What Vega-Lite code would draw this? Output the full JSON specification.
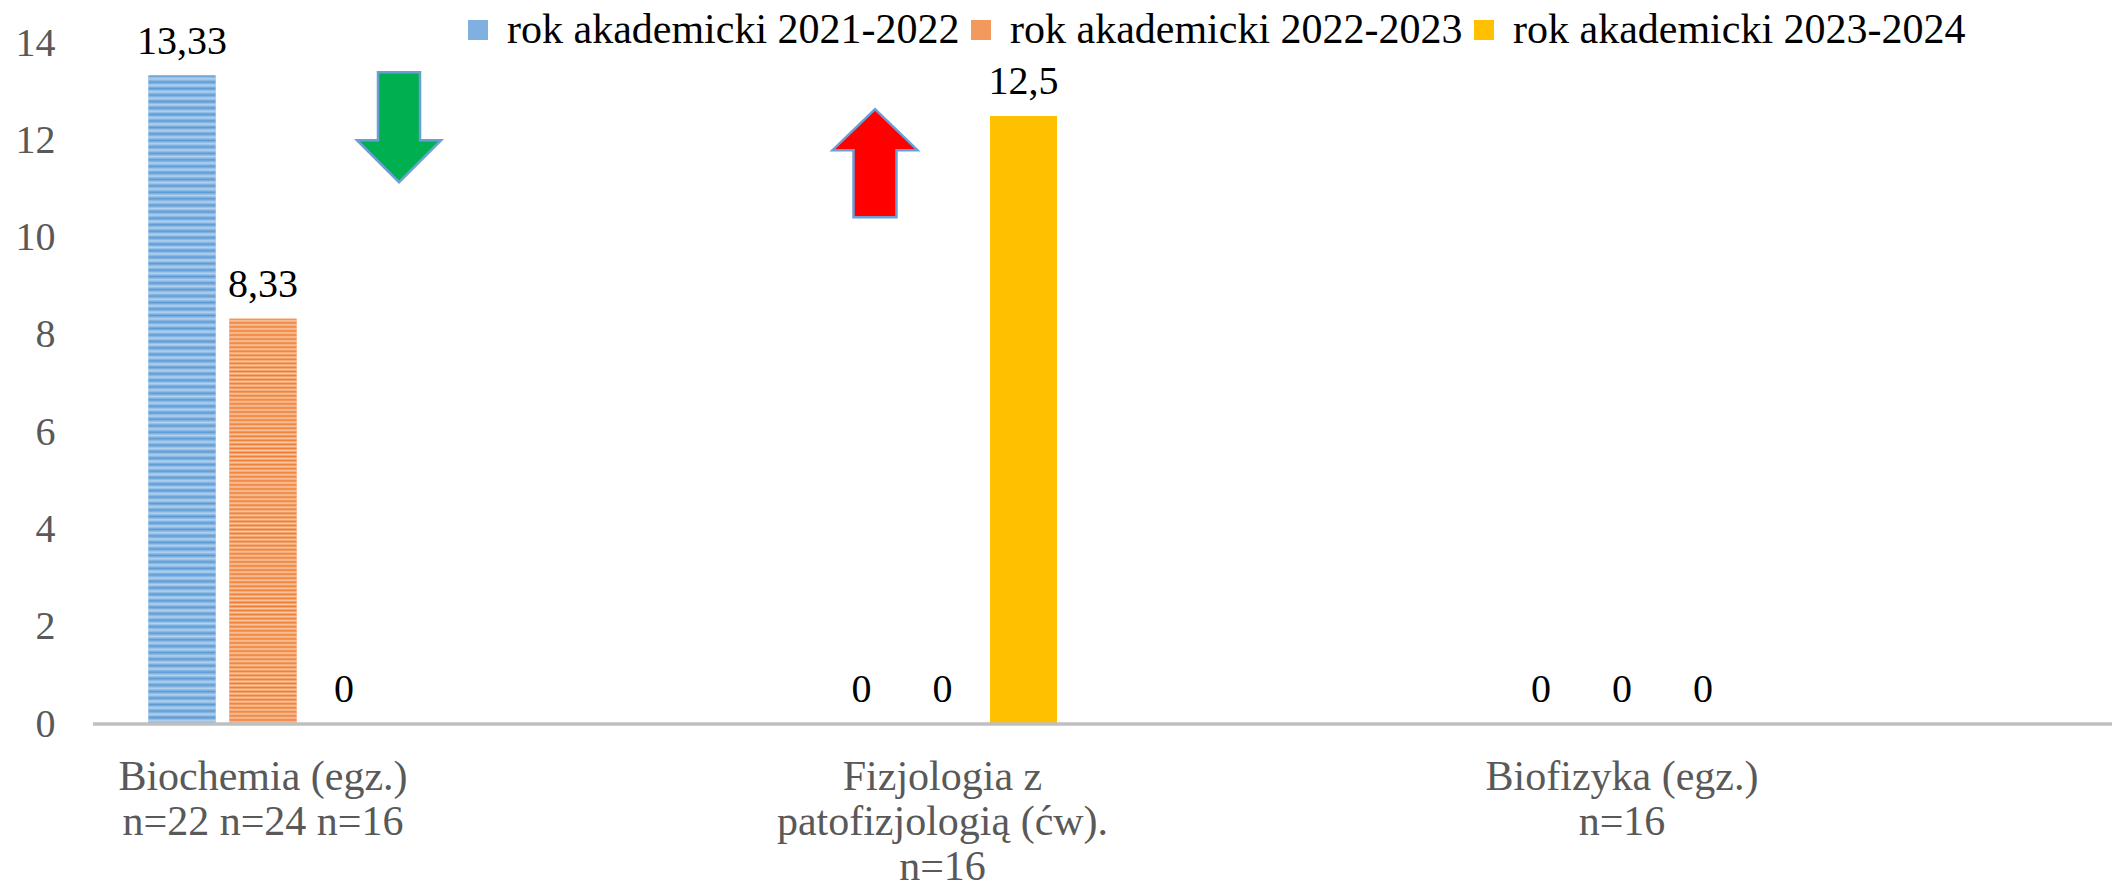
{
  "$schema": "https://vega.github.io/schema/vega-lite/v6.json",
  "width": 2019,
  "height": 681,
  "autosize": {"type": "none"},
  "padding": {"left": 93, "top": 43, "right": 0, "bottom": 165},
  "background": "white",
  "config": {
    "view": {"stroke": null},
    "font": "Liberation Serif",
    "locale": {"number": {"decimal": ",", "thousands": " ", "grouping": [3], "currency": ["", " zł"]}},
    "axisX": {"domain": false, "ticks": false, "grid": false, "labelFont": "Liberation Serif", "labelFontSize": 42, "labelColor": "#595959", "labelPadding": 32, "labelLineHeight": 45, "labelLimit": 1000, "labelAngle": 0, "labelBaseline": "top", "labelOverlap": false},
    "axisY": {"domain": false, "ticks": false, "grid": false, "labelFont": "Liberation Serif", "labelFontSize": 40, "labelColor": "#595959", "labelPadding": 38}
  },
  "datasets": {
    "wyniki": [
      {"przedmiot": "Biochemia (egz.) n=22 n=24 n=16", "rok": "rok akademicki 2021-2022", "wartosc": 13.33},
      {"przedmiot": "Biochemia (egz.) n=22 n=24 n=16", "rok": "rok akademicki 2022-2023", "wartosc": 8.33},
      {"przedmiot": "Biochemia (egz.) n=22 n=24 n=16", "rok": "rok akademicki 2023-2024", "wartosc": 0},
      {"przedmiot": "Fizjologia z patofizjologią (ćw). n=16", "rok": "rok akademicki 2021-2022", "wartosc": 0},
      {"przedmiot": "Fizjologia z patofizjologią (ćw). n=16", "rok": "rok akademicki 2022-2023", "wartosc": 0},
      {"przedmiot": "Fizjologia z patofizjologią (ćw). n=16", "rok": "rok akademicki 2023-2024", "wartosc": 12.5},
      {"przedmiot": "Biofizyka (egz.) n=16", "rok": "rok akademicki 2021-2022", "wartosc": 0},
      {"przedmiot": "Biofizyka (egz.) n=16", "rok": "rok akademicki 2022-2023", "wartosc": 0},
      {"przedmiot": "Biofizyka (egz.) n=16", "rok": "rok akademicki 2023-2024", "wartosc": 0}
    ],
    "trendy": [
      {"przedmiot": "Biochemia (egz.) n=22 n=24 n=16", "trend": "spadek", "wartosc": 12.27},
      {"przedmiot": "Fizjologia z patofizjologią (ćw). n=16", "trend": "wzrost", "wartosc": 11.53}
    ]
  },
  "layer": [
    {
      "data": {"name": "wyniki"},
      "mark": {"type": "bar"},
      "encoding": {
        "x": {"field": "przedmiot", "type": "nominal", "sort": null, "title": null,
              "scale": {"domain": ["Biochemia (egz.) n=22 n=24 n=16", "Fizjologia z patofizjologią (ćw). n=16", "Biofizyka (egz.) n=16"], "range": [-169.75, 1868.75], "paddingInner": 0, "paddingOuter": 0},
              "axis": {"labelExpr": "datum.value == 'Biochemia (egz.) n=22 n=24 n=16' ? ['Biochemia (egz.)', 'n=22 n=24 n=16'] : datum.value == 'Fizjologia z patofizjologią (ćw). n=16' ? ['Fizjologia z', 'patofizjologią (ćw).', 'n=16'] : ['Biofizyka (egz.)', 'n=16']"}},
        "xOffset": {"field": "rok", "type": "nominal", "sort": null, "scale": {"domain": ["rok akademicki 2021-2022", "rok akademicki 2022-2023", "rok akademicki 2023-2024"], "range": [218.25, 461.25], "paddingInner": 0.173, "paddingOuter": 0.0865}},
        "y": {"field": "wartosc", "type": "quantitative", "title": null, "scale": {"domain": [0, 14], "nice": false}, "axis": {"values": [0, 2, 4, 6, 8, 10, 12, 14]}},
        "color": {"field": "rok", "type": "nominal", "sort": null,
                  "scale": {"domain": ["rok akademicki 2021-2022", "rok akademicki 2022-2023", "rok akademicki 2023-2024"], "range": ["#7FB0E0", "#F29A5E", "#FFC000"]},
                  "legend": {"orient": "none", "legendX": 364, "legendY": -34, "direction": "horizontal", "gridAlign": "all", "title": null, "labelFont": "Liberation Serif", "labelFontSize": 42, "labelColor": "#000000", "symbolType": "square", "symbolSize": 400, "symbolStrokeWidth": 0, "labelOffset": 8, "columnPadding": -10, "padding": 0, "labelLimit": 1000}}
      }
    },
    {
      "data": {"name": "wyniki"},
      "transform": [{"filter": "datum.rok == 'rok akademicki 2021-2022'"}],
      "mark": {"type": "bar", "fill": {"gradient": "linear", "x1": 0, "y1": 0, "x2": 0, "y2": 1, "stops": [
        {"offset":0.00,"color":"#5B9BD5"},{"offset":0.005,"color":"#B4D2EF"},{"offset":0.01,"color":"#5B9BD5"},{"offset":0.015,"color":"#B4D2EF"},{"offset":0.02,"color":"#5B9BD5"},{"offset":0.025,"color":"#B4D2EF"},{"offset":0.03,"color":"#5B9BD5"},{"offset":0.035,"color":"#B4D2EF"},{"offset":0.04,"color":"#5B9BD5"},{"offset":0.045,"color":"#B4D2EF"},
        {"offset":0.05,"color":"#5B9BD5"},{"offset":0.055,"color":"#B4D2EF"},{"offset":0.06,"color":"#5B9BD5"},{"offset":0.065,"color":"#B4D2EF"},{"offset":0.07,"color":"#5B9BD5"},{"offset":0.075,"color":"#B4D2EF"},{"offset":0.08,"color":"#5B9BD5"},{"offset":0.085,"color":"#B4D2EF"},{"offset":0.09,"color":"#5B9BD5"},{"offset":0.095,"color":"#B4D2EF"},
        {"offset":0.10,"color":"#5B9BD5"},{"offset":0.105,"color":"#B4D2EF"},{"offset":0.11,"color":"#5B9BD5"},{"offset":0.115,"color":"#B4D2EF"},{"offset":0.12,"color":"#5B9BD5"},{"offset":0.125,"color":"#B4D2EF"},{"offset":0.13,"color":"#5B9BD5"},{"offset":0.135,"color":"#B4D2EF"},{"offset":0.14,"color":"#5B9BD5"},{"offset":0.145,"color":"#B4D2EF"},
        {"offset":0.15,"color":"#5B9BD5"},{"offset":0.155,"color":"#B4D2EF"},{"offset":0.16,"color":"#5B9BD5"},{"offset":0.165,"color":"#B4D2EF"},{"offset":0.17,"color":"#5B9BD5"},{"offset":0.175,"color":"#B4D2EF"},{"offset":0.18,"color":"#5B9BD5"},{"offset":0.185,"color":"#B4D2EF"},{"offset":0.19,"color":"#5B9BD5"},{"offset":0.195,"color":"#B4D2EF"},
        {"offset":0.20,"color":"#5B9BD5"},{"offset":0.205,"color":"#B4D2EF"},{"offset":0.21,"color":"#5B9BD5"},{"offset":0.215,"color":"#B4D2EF"},{"offset":0.22,"color":"#5B9BD5"},{"offset":0.225,"color":"#B4D2EF"},{"offset":0.23,"color":"#5B9BD5"},{"offset":0.235,"color":"#B4D2EF"},{"offset":0.24,"color":"#5B9BD5"},{"offset":0.245,"color":"#B4D2EF"},
        {"offset":0.25,"color":"#5B9BD5"},{"offset":0.255,"color":"#B4D2EF"},{"offset":0.26,"color":"#5B9BD5"},{"offset":0.265,"color":"#B4D2EF"},{"offset":0.27,"color":"#5B9BD5"},{"offset":0.275,"color":"#B4D2EF"},{"offset":0.28,"color":"#5B9BD5"},{"offset":0.285,"color":"#B4D2EF"},{"offset":0.29,"color":"#5B9BD5"},{"offset":0.295,"color":"#B4D2EF"},
        {"offset":0.30,"color":"#5B9BD5"},{"offset":0.305,"color":"#B4D2EF"},{"offset":0.31,"color":"#5B9BD5"},{"offset":0.315,"color":"#B4D2EF"},{"offset":0.32,"color":"#5B9BD5"},{"offset":0.325,"color":"#B4D2EF"},{"offset":0.33,"color":"#5B9BD5"},{"offset":0.335,"color":"#B4D2EF"},{"offset":0.34,"color":"#5B9BD5"},{"offset":0.345,"color":"#B4D2EF"},
        {"offset":0.35,"color":"#5B9BD5"},{"offset":0.355,"color":"#B4D2EF"},{"offset":0.36,"color":"#5B9BD5"},{"offset":0.365,"color":"#B4D2EF"},{"offset":0.37,"color":"#5B9BD5"},{"offset":0.375,"color":"#B4D2EF"},{"offset":0.38,"color":"#5B9BD5"},{"offset":0.385,"color":"#B4D2EF"},{"offset":0.39,"color":"#5B9BD5"},{"offset":0.395,"color":"#B4D2EF"},
        {"offset":0.40,"color":"#5B9BD5"},{"offset":0.405,"color":"#B4D2EF"},{"offset":0.41,"color":"#5B9BD5"},{"offset":0.415,"color":"#B4D2EF"},{"offset":0.42,"color":"#5B9BD5"},{"offset":0.425,"color":"#B4D2EF"},{"offset":0.43,"color":"#5B9BD5"},{"offset":0.435,"color":"#B4D2EF"},{"offset":0.44,"color":"#5B9BD5"},{"offset":0.445,"color":"#B4D2EF"},
        {"offset":0.45,"color":"#5B9BD5"},{"offset":0.455,"color":"#B4D2EF"},{"offset":0.46,"color":"#5B9BD5"},{"offset":0.465,"color":"#B4D2EF"},{"offset":0.47,"color":"#5B9BD5"},{"offset":0.475,"color":"#B4D2EF"},{"offset":0.48,"color":"#5B9BD5"},{"offset":0.485,"color":"#B4D2EF"},{"offset":0.49,"color":"#5B9BD5"},{"offset":0.495,"color":"#B4D2EF"},
        {"offset":0.50,"color":"#5B9BD5"},{"offset":0.505,"color":"#B4D2EF"},{"offset":0.51,"color":"#5B9BD5"},{"offset":0.515,"color":"#B4D2EF"},{"offset":0.52,"color":"#5B9BD5"},{"offset":0.525,"color":"#B4D2EF"},{"offset":0.53,"color":"#5B9BD5"},{"offset":0.535,"color":"#B4D2EF"},{"offset":0.54,"color":"#5B9BD5"},{"offset":0.545,"color":"#B4D2EF"},
        {"offset":0.55,"color":"#5B9BD5"},{"offset":0.555,"color":"#B4D2EF"},{"offset":0.56,"color":"#5B9BD5"},{"offset":0.565,"color":"#B4D2EF"},{"offset":0.57,"color":"#5B9BD5"},{"offset":0.575,"color":"#B4D2EF"},{"offset":0.58,"color":"#5B9BD5"},{"offset":0.585,"color":"#B4D2EF"},{"offset":0.59,"color":"#5B9BD5"},{"offset":0.595,"color":"#B4D2EF"},
        {"offset":0.60,"color":"#5B9BD5"},{"offset":0.605,"color":"#B4D2EF"},{"offset":0.61,"color":"#5B9BD5"},{"offset":0.615,"color":"#B4D2EF"},{"offset":0.62,"color":"#5B9BD5"},{"offset":0.625,"color":"#B4D2EF"},{"offset":0.63,"color":"#5B9BD5"},{"offset":0.635,"color":"#B4D2EF"},{"offset":0.64,"color":"#5B9BD5"},{"offset":0.645,"color":"#B4D2EF"},
        {"offset":0.65,"color":"#5B9BD5"},{"offset":0.655,"color":"#B4D2EF"},{"offset":0.66,"color":"#5B9BD5"},{"offset":0.665,"color":"#B4D2EF"},{"offset":0.67,"color":"#5B9BD5"},{"offset":0.675,"color":"#B4D2EF"},{"offset":0.68,"color":"#5B9BD5"},{"offset":0.685,"color":"#B4D2EF"},{"offset":0.69,"color":"#5B9BD5"},{"offset":0.695,"color":"#B4D2EF"},
        {"offset":0.70,"color":"#5B9BD5"},{"offset":0.705,"color":"#B4D2EF"},{"offset":0.71,"color":"#5B9BD5"},{"offset":0.715,"color":"#B4D2EF"},{"offset":0.72,"color":"#5B9BD5"},{"offset":0.725,"color":"#B4D2EF"},{"offset":0.73,"color":"#5B9BD5"},{"offset":0.735,"color":"#B4D2EF"},{"offset":0.74,"color":"#5B9BD5"},{"offset":0.745,"color":"#B4D2EF"},
        {"offset":0.75,"color":"#5B9BD5"},{"offset":0.755,"color":"#B4D2EF"},{"offset":0.76,"color":"#5B9BD5"},{"offset":0.765,"color":"#B4D2EF"},{"offset":0.77,"color":"#5B9BD5"},{"offset":0.775,"color":"#B4D2EF"},{"offset":0.78,"color":"#5B9BD5"},{"offset":0.785,"color":"#B4D2EF"},{"offset":0.79,"color":"#5B9BD5"},{"offset":0.795,"color":"#B4D2EF"},
        {"offset":0.80,"color":"#5B9BD5"},{"offset":0.805,"color":"#B4D2EF"},{"offset":0.81,"color":"#5B9BD5"},{"offset":0.815,"color":"#B4D2EF"},{"offset":0.82,"color":"#5B9BD5"},{"offset":0.825,"color":"#B4D2EF"},{"offset":0.83,"color":"#5B9BD5"},{"offset":0.835,"color":"#B4D2EF"},{"offset":0.84,"color":"#5B9BD5"},{"offset":0.845,"color":"#B4D2EF"},
        {"offset":0.85,"color":"#5B9BD5"},{"offset":0.855,"color":"#B4D2EF"},{"offset":0.86,"color":"#5B9BD5"},{"offset":0.865,"color":"#B4D2EF"},{"offset":0.87,"color":"#5B9BD5"},{"offset":0.875,"color":"#B4D2EF"},{"offset":0.88,"color":"#5B9BD5"},{"offset":0.885,"color":"#B4D2EF"},{"offset":0.89,"color":"#5B9BD5"},{"offset":0.895,"color":"#B4D2EF"},
        {"offset":0.90,"color":"#5B9BD5"},{"offset":0.905,"color":"#B4D2EF"},{"offset":0.91,"color":"#5B9BD5"},{"offset":0.915,"color":"#B4D2EF"},{"offset":0.92,"color":"#5B9BD5"},{"offset":0.925,"color":"#B4D2EF"},{"offset":0.93,"color":"#5B9BD5"},{"offset":0.935,"color":"#B4D2EF"},{"offset":0.94,"color":"#5B9BD5"},{"offset":0.945,"color":"#B4D2EF"},
        {"offset":0.95,"color":"#5B9BD5"},{"offset":0.955,"color":"#B4D2EF"},{"offset":0.96,"color":"#5B9BD5"},{"offset":0.965,"color":"#B4D2EF"},{"offset":0.97,"color":"#5B9BD5"},{"offset":0.975,"color":"#B4D2EF"},{"offset":0.98,"color":"#5B9BD5"},{"offset":0.985,"color":"#B4D2EF"},{"offset":0.99,"color":"#5B9BD5"},{"offset":0.995,"color":"#B4D2EF"},
        {"offset":1,"color":"#5B9BD5"}
      ]}},
      "encoding": {
        "x": {"field": "przedmiot", "type": "nominal", "sort": null, "title": null},
        "xOffset": {"field": "rok", "type": "nominal", "sort": null},
        "y": {"field": "wartosc", "type": "quantitative", "title": null}
      }
    },
    {
      "data": {"name": "wyniki"},
      "transform": [{"filter": "datum.rok == 'rok akademicki 2022-2023'"}],
      "mark": {"type": "bar", "fill": {"gradient": "linear", "x1": 0, "y1": 0, "x2": 0, "y2": 1, "stops": [
        {"offset":0.00,"color":"#ED7D31"},{"offset":0.005,"color":"#F9C9A7"},{"offset":0.01,"color":"#ED7D31"},{"offset":0.015,"color":"#F9C9A7"},{"offset":0.02,"color":"#ED7D31"},{"offset":0.025,"color":"#F9C9A7"},{"offset":0.03,"color":"#ED7D31"},{"offset":0.035,"color":"#F9C9A7"},{"offset":0.04,"color":"#ED7D31"},{"offset":0.045,"color":"#F9C9A7"},
        {"offset":0.05,"color":"#ED7D31"},{"offset":0.055,"color":"#F9C9A7"},{"offset":0.06,"color":"#ED7D31"},{"offset":0.065,"color":"#F9C9A7"},{"offset":0.07,"color":"#ED7D31"},{"offset":0.075,"color":"#F9C9A7"},{"offset":0.08,"color":"#ED7D31"},{"offset":0.085,"color":"#F9C9A7"},{"offset":0.09,"color":"#ED7D31"},{"offset":0.095,"color":"#F9C9A7"},
        {"offset":0.10,"color":"#ED7D31"},{"offset":0.105,"color":"#F9C9A7"},{"offset":0.11,"color":"#ED7D31"},{"offset":0.115,"color":"#F9C9A7"},{"offset":0.12,"color":"#ED7D31"},{"offset":0.125,"color":"#F9C9A7"},{"offset":0.13,"color":"#ED7D31"},{"offset":0.135,"color":"#F9C9A7"},{"offset":0.14,"color":"#ED7D31"},{"offset":0.145,"color":"#F9C9A7"},
        {"offset":0.15,"color":"#ED7D31"},{"offset":0.155,"color":"#F9C9A7"},{"offset":0.16,"color":"#ED7D31"},{"offset":0.165,"color":"#F9C9A7"},{"offset":0.17,"color":"#ED7D31"},{"offset":0.175,"color":"#F9C9A7"},{"offset":0.18,"color":"#ED7D31"},{"offset":0.185,"color":"#F9C9A7"},{"offset":0.19,"color":"#ED7D31"},{"offset":0.195,"color":"#F9C9A7"},
        {"offset":0.20,"color":"#ED7D31"},{"offset":0.205,"color":"#F9C9A7"},{"offset":0.21,"color":"#ED7D31"},{"offset":0.215,"color":"#F9C9A7"},{"offset":0.22,"color":"#ED7D31"},{"offset":0.225,"color":"#F9C9A7"},{"offset":0.23,"color":"#ED7D31"},{"offset":0.235,"color":"#F9C9A7"},{"offset":0.24,"color":"#ED7D31"},{"offset":0.245,"color":"#F9C9A7"},
        {"offset":0.25,"color":"#ED7D31"},{"offset":0.255,"color":"#F9C9A7"},{"offset":0.26,"color":"#ED7D31"},{"offset":0.265,"color":"#F9C9A7"},{"offset":0.27,"color":"#ED7D31"},{"offset":0.275,"color":"#F9C9A7"},{"offset":0.28,"color":"#ED7D31"},{"offset":0.285,"color":"#F9C9A7"},{"offset":0.29,"color":"#ED7D31"},{"offset":0.295,"color":"#F9C9A7"},
        {"offset":0.30,"color":"#ED7D31"},{"offset":0.305,"color":"#F9C9A7"},{"offset":0.31,"color":"#ED7D31"},{"offset":0.315,"color":"#F9C9A7"},{"offset":0.32,"color":"#ED7D31"},{"offset":0.325,"color":"#F9C9A7"},{"offset":0.33,"color":"#ED7D31"},{"offset":0.335,"color":"#F9C9A7"},{"offset":0.34,"color":"#ED7D31"},{"offset":0.345,"color":"#F9C9A7"},
        {"offset":0.35,"color":"#ED7D31"},{"offset":0.355,"color":"#F9C9A7"},{"offset":0.36,"color":"#ED7D31"},{"offset":0.365,"color":"#F9C9A7"},{"offset":0.37,"color":"#ED7D31"},{"offset":0.375,"color":"#F9C9A7"},{"offset":0.38,"color":"#ED7D31"},{"offset":0.385,"color":"#F9C9A7"},{"offset":0.39,"color":"#ED7D31"},{"offset":0.395,"color":"#F9C9A7"},
        {"offset":0.40,"color":"#ED7D31"},{"offset":0.405,"color":"#F9C9A7"},{"offset":0.41,"color":"#ED7D31"},{"offset":0.415,"color":"#F9C9A7"},{"offset":0.42,"color":"#ED7D31"},{"offset":0.425,"color":"#F9C9A7"},{"offset":0.43,"color":"#ED7D31"},{"offset":0.435,"color":"#F9C9A7"},{"offset":0.44,"color":"#ED7D31"},{"offset":0.445,"color":"#F9C9A7"},
        {"offset":0.45,"color":"#ED7D31"},{"offset":0.455,"color":"#F9C9A7"},{"offset":0.46,"color":"#ED7D31"},{"offset":0.465,"color":"#F9C9A7"},{"offset":0.47,"color":"#ED7D31"},{"offset":0.475,"color":"#F9C9A7"},{"offset":0.48,"color":"#ED7D31"},{"offset":0.485,"color":"#F9C9A7"},{"offset":0.49,"color":"#ED7D31"},{"offset":0.495,"color":"#F9C9A7"},
        {"offset":0.50,"color":"#ED7D31"},{"offset":0.505,"color":"#F9C9A7"},{"offset":0.51,"color":"#ED7D31"},{"offset":0.515,"color":"#F9C9A7"},{"offset":0.52,"color":"#ED7D31"},{"offset":0.525,"color":"#F9C9A7"},{"offset":0.53,"color":"#ED7D31"},{"offset":0.535,"color":"#F9C9A7"},{"offset":0.54,"color":"#ED7D31"},{"offset":0.545,"color":"#F9C9A7"},
        {"offset":0.55,"color":"#ED7D31"},{"offset":0.555,"color":"#F9C9A7"},{"offset":0.56,"color":"#ED7D31"},{"offset":0.565,"color":"#F9C9A7"},{"offset":0.57,"color":"#ED7D31"},{"offset":0.575,"color":"#F9C9A7"},{"offset":0.58,"color":"#ED7D31"},{"offset":0.585,"color":"#F9C9A7"},{"offset":0.59,"color":"#ED7D31"},{"offset":0.595,"color":"#F9C9A7"},
        {"offset":0.60,"color":"#ED7D31"},{"offset":0.605,"color":"#F9C9A7"},{"offset":0.61,"color":"#ED7D31"},{"offset":0.615,"color":"#F9C9A7"},{"offset":0.62,"color":"#ED7D31"},{"offset":0.625,"color":"#F9C9A7"},{"offset":0.63,"color":"#ED7D31"},{"offset":0.635,"color":"#F9C9A7"},{"offset":0.64,"color":"#ED7D31"},{"offset":0.645,"color":"#F9C9A7"},
        {"offset":0.65,"color":"#ED7D31"},{"offset":0.655,"color":"#F9C9A7"},{"offset":0.66,"color":"#ED7D31"},{"offset":0.665,"color":"#F9C9A7"},{"offset":0.67,"color":"#ED7D31"},{"offset":0.675,"color":"#F9C9A7"},{"offset":0.68,"color":"#ED7D31"},{"offset":0.685,"color":"#F9C9A7"},{"offset":0.69,"color":"#ED7D31"},{"offset":0.695,"color":"#F9C9A7"},
        {"offset":0.70,"color":"#ED7D31"},{"offset":0.705,"color":"#F9C9A7"},{"offset":0.71,"color":"#ED7D31"},{"offset":0.715,"color":"#F9C9A7"},{"offset":0.72,"color":"#ED7D31"},{"offset":0.725,"color":"#F9C9A7"},{"offset":0.73,"color":"#ED7D31"},{"offset":0.735,"color":"#F9C9A7"},{"offset":0.74,"color":"#ED7D31"},{"offset":0.745,"color":"#F9C9A7"},
        {"offset":0.75,"color":"#ED7D31"},{"offset":0.755,"color":"#F9C9A7"},{"offset":0.76,"color":"#ED7D31"},{"offset":0.765,"color":"#F9C9A7"},{"offset":0.77,"color":"#ED7D31"},{"offset":0.775,"color":"#F9C9A7"},{"offset":0.78,"color":"#ED7D31"},{"offset":0.785,"color":"#F9C9A7"},{"offset":0.79,"color":"#ED7D31"},{"offset":0.795,"color":"#F9C9A7"},
        {"offset":0.80,"color":"#ED7D31"},{"offset":0.805,"color":"#F9C9A7"},{"offset":0.81,"color":"#ED7D31"},{"offset":0.815,"color":"#F9C9A7"},{"offset":0.82,"color":"#ED7D31"},{"offset":0.825,"color":"#F9C9A7"},{"offset":0.83,"color":"#ED7D31"},{"offset":0.835,"color":"#F9C9A7"},{"offset":0.84,"color":"#ED7D31"},{"offset":0.845,"color":"#F9C9A7"},
        {"offset":0.85,"color":"#ED7D31"},{"offset":0.855,"color":"#F9C9A7"},{"offset":0.86,"color":"#ED7D31"},{"offset":0.865,"color":"#F9C9A7"},{"offset":0.87,"color":"#ED7D31"},{"offset":0.875,"color":"#F9C9A7"},{"offset":0.88,"color":"#ED7D31"},{"offset":0.885,"color":"#F9C9A7"},{"offset":0.89,"color":"#ED7D31"},{"offset":0.895,"color":"#F9C9A7"},
        {"offset":0.90,"color":"#ED7D31"},{"offset":0.905,"color":"#F9C9A7"},{"offset":0.91,"color":"#ED7D31"},{"offset":0.915,"color":"#F9C9A7"},{"offset":0.92,"color":"#ED7D31"},{"offset":0.925,"color":"#F9C9A7"},{"offset":0.93,"color":"#ED7D31"},{"offset":0.935,"color":"#F9C9A7"},{"offset":0.94,"color":"#ED7D31"},{"offset":0.945,"color":"#F9C9A7"},
        {"offset":0.95,"color":"#ED7D31"},{"offset":0.955,"color":"#F9C9A7"},{"offset":0.96,"color":"#ED7D31"},{"offset":0.965,"color":"#F9C9A7"},{"offset":0.97,"color":"#ED7D31"},{"offset":0.975,"color":"#F9C9A7"},{"offset":0.98,"color":"#ED7D31"},{"offset":0.985,"color":"#F9C9A7"},{"offset":0.99,"color":"#ED7D31"},{"offset":0.995,"color":"#F9C9A7"},
        {"offset":1,"color":"#ED7D31"}
      ]}},
      "encoding": {
        "x": {"field": "przedmiot", "type": "nominal", "sort": null, "title": null},
        "xOffset": {"field": "rok", "type": "nominal", "sort": null},
        "y": {"field": "wartosc", "type": "quantitative", "title": null}
      }
    },
    {
      "data": {"values": [{}]},
      "mark": {"type": "rule", "color": "#BFBFBF", "strokeWidth": 3.5},
      "encoding": {"y": {"datum": 0, "type": "quantitative"}}
    },
    {
      "data": {"name": "wyniki"},
      "mark": {"type": "text", "baseline": "alphabetic", "align": "center", "dy": -22, "font": "Liberation Serif", "fontSize": 40, "color": "#000000"},
      "encoding": {
        "x": {"field": "przedmiot", "type": "nominal", "sort": null, "title": null},
        "xOffset": {"field": "rok", "type": "nominal", "sort": null},
        "y": {"field": "wartosc", "type": "quantitative", "title": null},
        "text": {"field": "wartosc", "type": "quantitative", "format": "~f"}
      }
    },
    {
      "data": {"name": "trendy"},
      "transform": [{"filter": "datum.trend == 'spadek'"}],
      "mark": {"type": "point", "filled": true, "opacity": 1, "size": 12100, "shape": "M2.091,-1L2.855,-1L2.855,0.236L3.237,0.236L2.473,1L1.709,0.236L2.091,0.236Z", "fill": "#00B050", "stroke": "#6A9FD6", "strokeWidth": 2.5},
      "encoding": {
        "x": {"field": "przedmiot", "type": "nominal", "sort": null, "title": null},
        "y": {"field": "wartosc", "type": "quantitative", "title": null}
      }
    },
    {
      "data": {"name": "trendy"},
      "transform": [{"filter": "datum.trend == 'wzrost'"}],
      "mark": {"type": "point", "filled": true, "opacity": 1, "size": 11664, "shape": "M-1.25,-1L-0.463,-0.241L-0.852,-0.241L-0.852,1L-1.648,1L-1.648,-0.241L-2.037,-0.241Z", "fill": "#FF0000", "stroke": "#6A9FD6", "strokeWidth": 2.5},
      "encoding": {
        "x": {"field": "przedmiot", "type": "nominal", "sort": null, "title": null},
        "y": {"field": "wartosc", "type": "quantitative", "title": null}
      }
    }
  ]
}
